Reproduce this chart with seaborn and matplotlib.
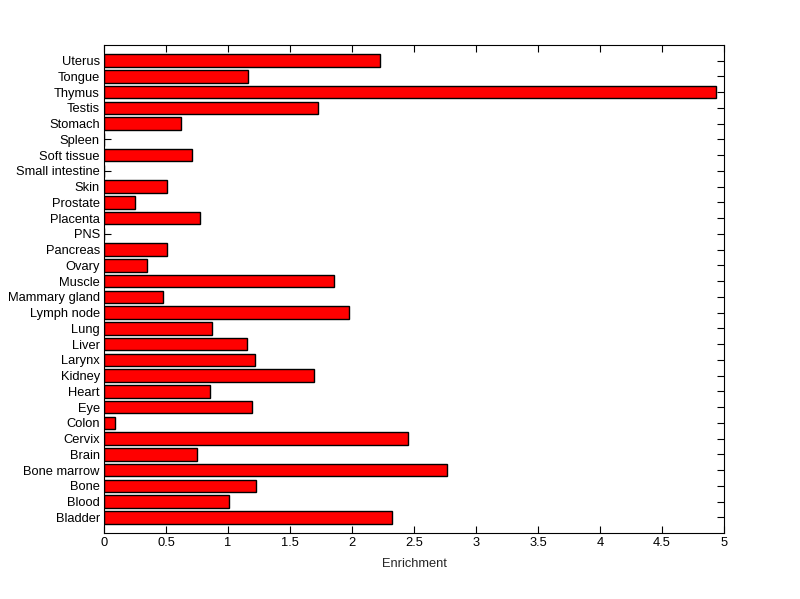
import seaborn as sns
import matplotlib.pyplot as plt
import pandas as pd

# tissues listed bottom-to-top as in the original figure
tissues = ['Bladder', 'Blood', 'Bone', 'Bone marrow', 'Brain', 'Cervix', 'Colon', 'Eye',
           'Heart', 'Kidney', 'Larynx', 'Liver', 'Lung', 'Lymph node', 'Mammary gland',
           'Muscle', 'Ovary', 'Pancreas', 'PNS', 'Placenta', 'Prostate', 'Skin',
           'Small intestine', 'Soft tissue', 'Spleen', 'Stomach', 'Testis', 'Thymus',
           'Tongue', 'Uterus']
enrichment = [2.326, 1.011, 1.229, 2.769, 0.75, 2.455, 0.089, 1.197,
              0.855, 1.694, 1.221, 1.156, 0.871, 1.976, 0.476,
              1.858, 0.35, 0.508, 0.0, 0.774, 0.25, 0.508,
              0.0, 0.713, 0.0, 0.624, 1.729, 4.935,
              1.164, 2.226]
x_ticks = [0, 0.5, 1, 1.5, 2, 2.5, 3, 3.5, 4, 4.5, 5]

df = pd.DataFrame({'Tissue': tissues, 'Enrichment': enrichment})

sns.set_style('ticks')
plt.rcParams['font.family'] = ['Liberation Sans', 'DejaVu Sans']
plt.rcParams['xtick.direction'] = 'in'
plt.rcParams['ytick.direction'] = 'in'

fig = plt.figure(figsize=(8, 5.99), dpi=100)
ax = fig.add_axes([0.13, 0.11, 0.775, 0.815])

sns.barplot(data=df, x='Enrichment', y='Tissue', order=tissues[::-1], color='#ff0000',
            saturation=1, edgecolor='black', linewidth=1, width=0.8, ax=ax)

ax.set_xlim(0, 5)
ax.set_ylim(30, -1)
ax.set_xticks(x_ticks)
ax.set_xticklabels([f'{t:g}' for t in x_ticks])
ax.set_ylabel('')
ax.set_xlabel('Enrichment', fontsize=9.3, labelpad=6)
ax.tick_params(axis='both', labelsize=9.3, length=5, width=0.8, color='black',
               top=True, right=True, labelcolor='black', pad=3)
for s in ax.spines.values():
    s.set_visible(True)
    s.set_color('black')
    s.set_linewidth(0.8)

fig.savefig('out.png', dpi=100, facecolor='white')
